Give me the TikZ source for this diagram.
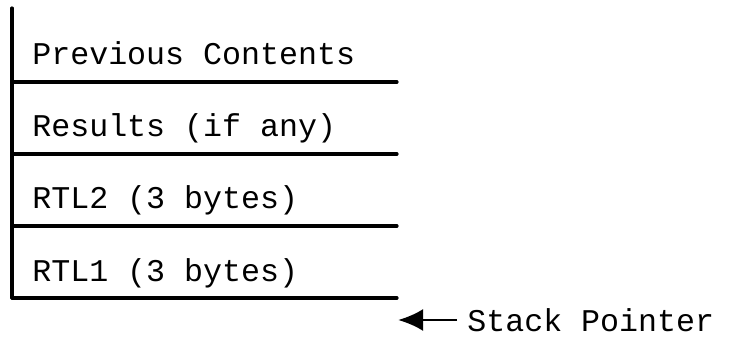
\documentclass[tikz,border=0pt]{standalone}
\usepackage{fontspec}
\usepackage{tkz-euclide}
\usetikzlibrary{arrows.meta}
\setmonofont{Liberation Mono}
\tikzset{cell/.style = {anchor=base west, inner sep=0pt, font=\fontsize{18}{22}\ttfamily}}

\begin{document}
\begin{tikzpicture}
\useasboundingbox (0,0) rectangle (14.7,7.16);
\tkzDefPoints{0.24/7.0/T, 0.24/5.52/L1, 7.94/5.52/R1, 0.24/4.08/L2, 7.94/4.08/R2,
  0.24/2.64/L3, 7.94/2.64/R3, 0.24/1.2/L4, 7.94/1.2/R4, 7.96/0.76/P}
\tkzDrawSegments[line width=1.8pt](T,L4 L1,R1 L2,R2 L3,R3 L4,R4)
\node[cell] (prev) at (0.64,5.86) {Previous Contents};
\node[cell] (res) at (0.64,4.42) {Results (if any)};
\node[cell] (rtltwo) at (0.64,2.98) {RTL2 (3 bytes)};
\node[cell] (rtlone) at (0.64,1.54) {RTL1 (3 bytes)};
\node[cell, anchor=west] (sp) at (9.34,0.76) {Stack Pointer};
\draw[line width=1.7pt, -{Latex[length=0.5cm, width=0.44cm]}] ([xshift=-0.2cm]sp.west) -- (P);
\end{tikzpicture}
\end{document}
